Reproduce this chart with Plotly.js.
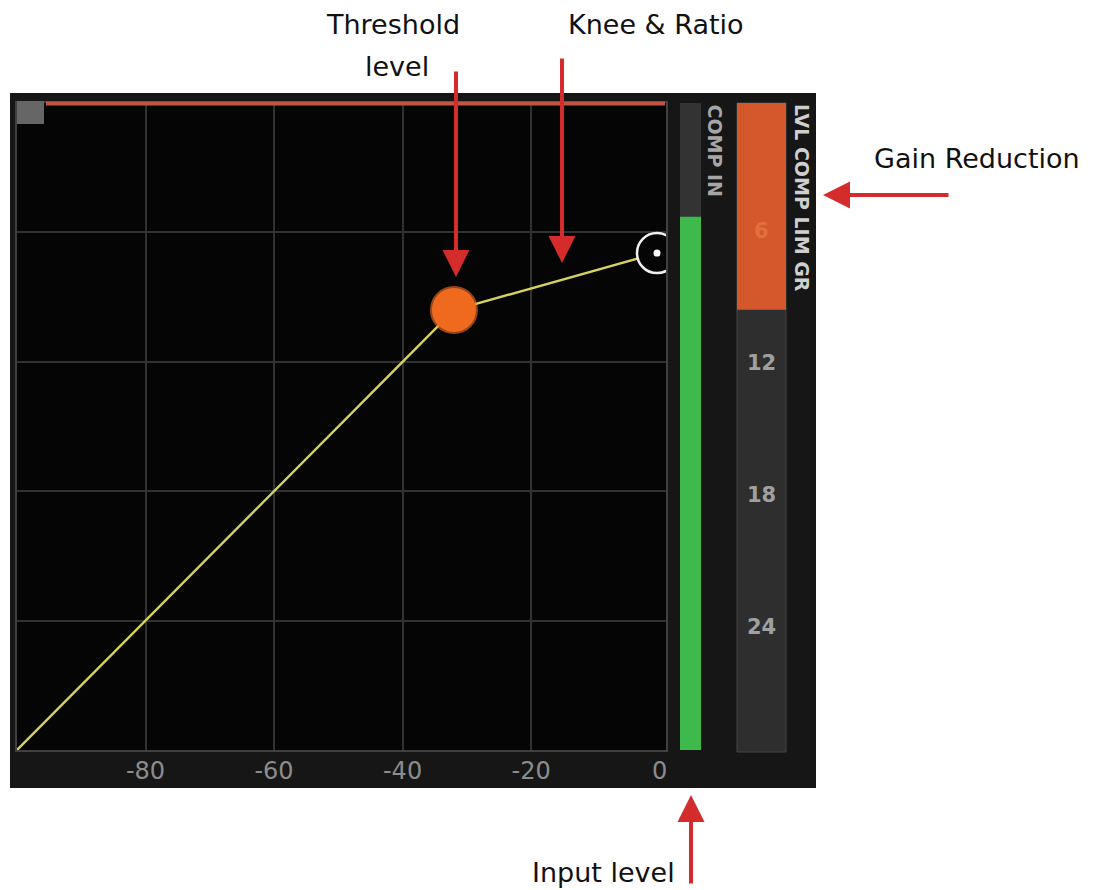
<!DOCTYPE html>
<html>
<head>
<meta charset="utf-8">
<script src="https://cdn.plot.ly/plotly-3.0.1.min.js"></script>
<style>html,body{margin:0;padding:0;background:#fff;}#chart{width:1093px;height:890px;}</style>
</head>
<body>
<div id="chart"></div>
<script>
// ---- data ----
const curveIn = [-100, -32, -0.4];
const curveOut = [-100, -32, -23.2];
const thresholdIn = -32;
const thresholdOut = -32;
const endIn = -0.4;
const endOut = -23.2;
const gridVals = [-80, -60, -40, -20];
const tickVals = [-80, -60, -40, -20, 0];
const tickLabels = ['-80', '-60', '-40', '-20', '0'];
const inputLevel = -17.6;
const meterFloor = -100;
const gainReduction = 9.6;
const grLabelVals = [6, 12, 18, 24];
const compInLabel = 'COMP IN';
const grMeterLabel = 'LVL COMP LIM GR';

// ---- helpers (pixel -> paper) ----
const W = 1093, H = 890;
const fx = p => p / W;
const fy = p => 1 - p / H;

const traces = [
  {x: curveIn, y: curveOut, mode: 'lines', line: {color: '#d6d25e', width: 2.4}, xaxis: 'x', yaxis: 'y', hoverinfo: 'skip'},
  {x: [thresholdIn], y: [thresholdOut], mode: 'markers', marker: {size: 48, color: 'rgba(250,115,40,0.6)', line: {width: 0}}, xaxis: 'x', yaxis: 'y'},
  {x: [thresholdIn], y: [thresholdOut], mode: 'markers', marker: {size: 44, color: '#ef6a1f', line: {width: 0}}, xaxis: 'x', yaxis: 'y'},
  {x: [endIn], y: [endOut], mode: 'markers', marker: {size: 40, color: '#050505', line: {color: '#f0f0f0', width: 2.5}}, xaxis: 'x', yaxis: 'y'},
  {x: [endIn], y: [endOut], mode: 'markers', marker: {size: 7, color: '#ffffff', line: {width: 0}}, xaxis: 'x', yaxis: 'y'},
  // invisible carrier so the tick-label axis is drawn
  {x: tickVals, y: tickVals.map(() => meterFloor), mode: 'markers', marker: {size: 1, opacity: 0}, xaxis: 'x2', yaxis: 'y', hoverinfo: 'skip'},
  {type: 'bar', x: [0], y: [inputLevel - meterFloor], base: meterFloor, width: 1, marker: {color: '#3dba4b', line: {width: 0}}, xaxis: 'x3', yaxis: 'y3'},
  {type: 'bar', x: [0], y: [gainReduction], base: 0, width: 1, marker: {color: '#d4582b', line: {width: 0}}, xaxis: 'x4', yaxis: 'y4'}
];

const tickFont = {family: 'DejaVu Sans', size: 24, color: '#8c8c8c'};
const calloutFont = {family: 'DejaVu Sans', size: 27, color: '#111111'};
const arrowColor = '#d42b2b';

function arrow(tipX, tipY, ax, ay) {
  return {xref: 'paper', yref: 'paper', x: fx(tipX), y: fy(tipY), text: '', showarrow: true,
    arrowhead: 2, arrowsize: 1.35, arrowwidth: 4, arrowcolor: arrowColor, ax: ax, ay: ay, standoff: 0};
}
function callout(cx, cy, text) {
  return {xref: 'paper', yref: 'paper', x: fx(cx), y: fy(cy), xanchor: 'center', yanchor: 'middle',
    text: text, showarrow: false, font: calloutFont};
}

const annotations = [
  {xref: 'paper', yref: 'paper', x: fx(715), y: fy(102), xanchor: 'center', yanchor: 'top', textangle: 90,
    text: compInLabel, showarrow: false, font: {family: 'DejaVu Sans', size: 19, weight: 'bold', color: '#a6a6a6'}},
  {xref: 'paper', yref: 'paper', x: fx(802), y: fy(102), xanchor: 'center', yanchor: 'top', textangle: 90,
    text: grMeterLabel, showarrow: false, font: {family: 'DejaVu Sans', size: 19, weight: 'bold', color: '#cfcfcf'}},
  callout(393, 25, 'Threshold'),
  callout(397, 66, 'level'),
  callout(656, 25, 'Knee &amp; Ratio'),
  callout(977, 158, 'Gain Reduction'),
  callout(603, 872, 'Input level'),
  arrow(456, 277, 0, -207),
  arrow(562, 263, 0, -206),
  arrow(823, 195, 127, 0),
  arrow(691, 795, 0, 90)
];
grLabelVals.forEach((v, i) => {
  annotations.push({xref: 'x4', yref: 'y4', x: 0, y: v, xanchor: 'center', yanchor: 'middle', text: String(v), showarrow: false,
    font: {family: 'DejaVu Sans', size: 21, weight: 'bold', color: i === 0 ? '#e2703e' : '#a0a0a0'}});
});

const shapes = [
  {type: 'rect', xref: 'paper', yref: 'paper', x0: fx(10), x1: fx(816), y0: fy(788), y1: fy(93), fillcolor: '#161616', line: {width: 0}, layer: 'below'},
  {type: 'rect', xref: 'x domain', yref: 'y domain', x0: 0, x1: 1, y0: 0, y1: 1, fillcolor: '#050505', line: {width: 0}, layer: 'below'},
  {type: 'rect', xref: 'x3 domain', yref: 'y3 domain', x0: 0, x1: 1, y0: 0, y1: 1, fillcolor: '#333333', line: {width: 0}, layer: 'below'},
  {type: 'rect', xref: 'x4 domain', yref: 'y4 domain', x0: 0, x1: 1, y0: 0, y1: 1, fillcolor: '#2e2e2e', line: {color: '#454545', width: 1}, layer: 'below'},
  {type: 'line', xref: 'paper', yref: 'paper', x0: fx(46), x1: fx(665), y0: fy(103.5), y1: fy(103.5), line: {color: '#c25444', width: 4}, layer: 'above'},
  {type: 'rect', xref: 'paper', yref: 'paper', x0: fx(17), x1: fx(44), y0: fy(124), y1: fy(101), fillcolor: '#666666', line: {width: 0}, layer: 'above'}
];

const mainYDomain = [fy(750), fy(103)];
const layout = {
  width: W, height: H,
  margin: {l: 0, r: 0, t: 0, b: 0, pad: 0},
  paper_bgcolor: '#ffffff',
  plot_bgcolor: 'rgba(0,0,0,0)',
  showlegend: false,
  xaxis: {domain: [fx(17), fx(666)], range: [-100, 1], tickvals: gridVals, showticklabels: false, ticks: '',
    showgrid: true, gridcolor: '#323232', gridwidth: 2, zeroline: false,
    showline: true, linecolor: '#404040', linewidth: 2, mirror: true, fixedrange: true},
  xaxis2: {overlaying: 'x', anchor: 'y', side: 'bottom', range: [-100, 1], tickmode: 'array', tickvals: tickVals, ticktext: tickLabels, ticks: '',
    showgrid: false, zeroline: false, showline: false, tickfont: tickFont, ticklabelstandoff: 4, fixedrange: true},
  yaxis: {domain: mainYDomain, range: [-100, 0], tickvals: gridVals, showticklabels: false, ticks: '',
    showgrid: true, gridcolor: '#323232', gridwidth: 2, zeroline: false,
    showline: true, linecolor: '#404040', linewidth: 2, mirror: true, fixedrange: true},
  xaxis3: {domain: [fx(680), fx(701)], range: [-0.5, 0.5], visible: false, anchor: 'y3', fixedrange: true},
  yaxis3: {domain: mainYDomain, range: [-100, 0], visible: false, anchor: 'x3', fixedrange: true},
  xaxis4: {domain: [fx(737), fx(786)], range: [-0.5, 0.5], visible: false, anchor: 'y4', fixedrange: true},
  yaxis4: {domain: [fy(752), fy(103)], range: [29.7, 0.2], visible: false, anchor: 'x4', fixedrange: true},
  shapes: shapes,
  annotations: annotations
};

Plotly.newPlot('chart', traces, layout, {displayModeBar: false, staticPlot: true});
</script>
</body>
</html>
